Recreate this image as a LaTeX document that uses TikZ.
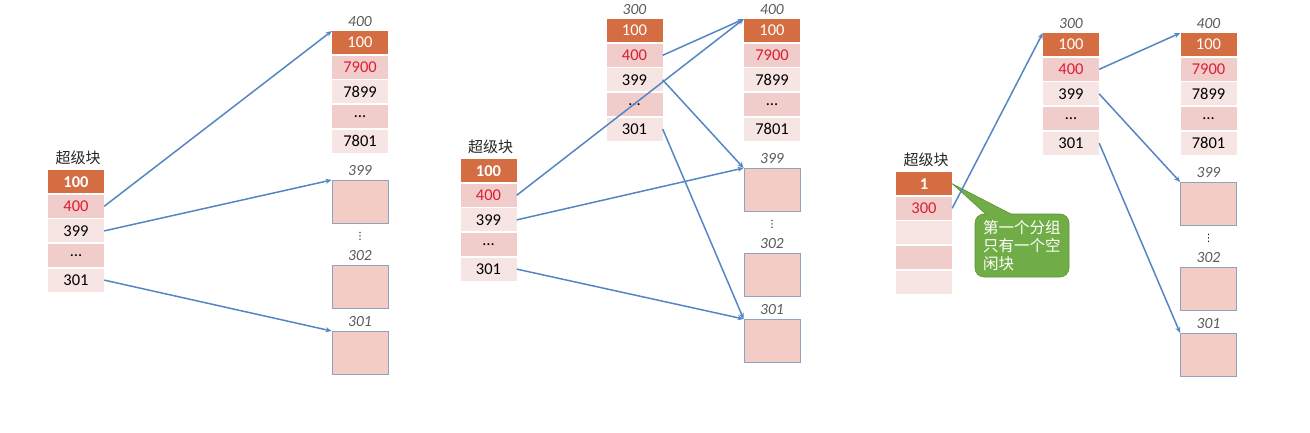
\documentclass[tikz,border=0pt]{standalone}
\usepackage{fontspec}
\setmainfont{Carlito}
\newfontfamily\cjkfont{Noto Sans CJK SC}
\newfontfamily\symfont{DejaVu Sans}
\usetikzlibrary{arrows.meta}
\definecolor{headorange}{RGB}{213,109,66}
\definecolor{pinkdark}{RGB}{240,205,202}
\definecolor{pinklight}{RGB}{247,229,228}
\definecolor{boxpink}{RGB}{244,204,198}
\definecolor{boxedge}{RGB}{143,163,191}
\definecolor{numred}{RGB}{222,28,52}
\definecolor{labelgray}{RGB}{90,90,90}
\definecolor{arrowblue}{RGB}{84,134,196}
\definecolor{notegreen}{RGB}{112,173,71}
\definecolor{noteedge}{RGB}{92,150,56}
\begin{document}
\begin{tikzpicture}
[x=1pt,y=-1pt,
  celldecorate/.style={minimum width=56pt,minimum height=23pt,inner sep=0pt,anchor=north},
  boxdecorate/.style={minimum width=56pt,minimum height=43pt,inner sep=0pt,anchor=north,
    fill=boxpink,draw=boxedge,line width=0.8pt},
  labeldecorate/.style={font=\fontsize{15.5}{18}\selectfont\itshape,text=labelgray,inner sep=0pt},
  titledecorate/.style={font=\cjkfont\fontsize{15}{18}\selectfont,text=black!85,inner sep=0pt},
  notedecorate/.style={fill=notegreen,draw=noteedge,line width=0.6pt,rounded corners=9pt,
    text=white,text width=78pt,align=left,inner xsep=8pt,minimum height=63pt,
    font=\cjkfont\fontsize{15.5}{18}\selectfont},
  linedecorate/.style={-{Stealth[length=6pt,width=5pt]},draw=arrowblue,line width=1.5pt},
  font=\fontsize{16.5}{18}\selectfont]
\useasboundingbox (0,0) rectangle (1310,433);
%% free block 400 with its blocks 399 ... 301
\foreach \p/\cx/\top in {1/360/31, 2/772/19, 3/1208.5/33}
{
  \node [labeldecorate,above=4pt] at (\cx,\top) {400};
  \foreach \i/\txt/\fc/\tc in {1/100/headorange/white, 2/7900/pinkdark/numred,
    3/7899/pinklight/black, 4/\ldots/pinkdark/black, 5/7801/pinklight/black}
    \node (col400-\p-\i) [celldecorate,fill=\fc,text=\tc] at (\cx,{\top+(\i-1)*24.6}) {\txt};
  \foreach \j/\lbl/\dy in {1/399/149, 2/302/234, 3/301/300}
  {
    \node (box-\p-\j) [boxdecorate] at (\cx,{\top+\dy}) {};
    \node [labeldecorate,above=4pt] at (box-\p-\j.north) {\lbl};
  }
  \node [inner sep=0pt,font=\symfont\fontsize{10}{10}\selectfont] at (\cx,{\top+205}) {⋮};
}
%% free block 300
\foreach \p/\cx/\top in {2/634.5/19, 3/1071/33}
{
  \node [labeldecorate,above=4pt] at (\cx,\top) {300};
  \foreach \i/\txt/\fc/\tc in {1/100/headorange/white, 2/400/pinkdark/numred,
    3/399/pinklight/black, 4/\ldots/pinkdark/black, 5/301/pinklight/black}
    \node (col300-\p-\i) [celldecorate,fill=\fc,text=\tc] at (\cx,{\top+(\i-1)*24.6}) {\txt};
}
%% super blocks
\foreach \p/\cx/\top in {1/76/170, 2/488.5/159}
{
  \foreach \i/\txt/\fc/\tc in {1/\textbf{100}/headorange/white, 2/400/pinkdark/numred,
    3/399/pinklight/black, 4/\ldots/pinkdark/black, 5/301/pinklight/black}
    \node (super-\p-\i) [celldecorate,fill=\fc,text=\tc] at (\cx,{\top+(\i-1)*24.6}) {\txt};
}
\foreach \i/\txt/\fc/\tc in {1/\textbf{1}/headorange/white, 2/300/pinkdark/numred,
  3/{}/pinklight/black, 4/{}/pinkdark/black, 5/{}/pinklight/black}
  \node (super-3-\i) [celldecorate,fill=\fc,text=\tc] at (924,{172+(\i-1)*24.6}) {\txt};
\foreach \p in {1,2,3}
  \node [titledecorate,above=5pt,xshift=2pt] at (super-\p-1.north) {超级块};
%% note
\node (note) [notedecorate] at (1022,245.5) {第一个分组\\只有一个空\\闲块};
\filldraw [fill=notegreen,draw=noteedge,line width=0.6pt]
  ([xshift=12pt,yshift=-1.2pt]note.north west) -- (super-3-1.east)
  -- ([xshift=38pt,yshift=-1.2pt]note.north west);
%% edges or lines
\path
\foreach \startnode/\endnode in {super-1-2/col400-1-1, super-1-3/box-1-1, super-1-5/box-1-3,
  super-2-2/col400-2-1, super-2-3/box-2-1, super-2-5/box-2-3,
  col300-2-2/col400-2-1, col300-2-3/box-2-1, col300-2-5/box-2-3,
  super-3-2/col300-3-1, col300-3-2/col400-3-1, col300-3-3/box-3-1, col300-3-5/box-3-3} {
  (\startnode.east) edge[linedecorate] (\endnode.north west)
};
\end{tikzpicture}
\end{document}
